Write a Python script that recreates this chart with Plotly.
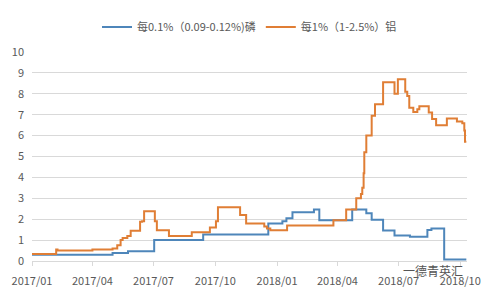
import plotly.graph_objects as go

# Phosphorus (per 0.1%) change points
p_dates = ["2017-01-01", "2017-05-01", "2017-05-24", "2017-07-02", "2017-09-13",
           "2017-12-19", "2018-01-09", "2018-01-15", "2018-01-24", "2018-02-25",
           "2018-03-05", "2018-04-23", "2018-05-14", "2018-05-22", "2018-06-08",
           "2018-06-25", "2018-07-18", "2018-08-13", "2018-08-19", "2018-09-06",
           "2018-09-07", "2018-10-10"]
p_vals = [0.30, 0.38, 0.47, 1.00, 1.27,
          1.80, 1.90, 2.05, 2.33, 2.47,
          1.95, 2.47, 2.28, 1.97, 1.46,
          1.22, 1.16, 1.48, 1.55, 1.55,
          0.07, 0.07]

# Aluminium (per 1%) change points
a_dates = ["2017-01-01", "2017-02-06", "2017-02-08", "2017-04-01", "2017-05-01",
           "2017-05-08", "2017-05-13", "2017-05-16", "2017-05-23", "2017-05-28",
           "2017-06-11", "2017-06-14", "2017-06-17", "2017-07-01", "2017-07-03",
           "2017-07-06", "2017-07-24", "2017-08-27", "2017-09-23", "2017-10-02",
           "2017-10-05", "2017-11-07", "2017-11-16", "2017-12-13", "2017-12-17",
           "2017-12-22", "2018-01-16", "2018-03-26", "2018-04-14", "2018-04-29",
           "2018-05-06", "2018-05-08", "2018-05-10", "2018-05-11", "2018-05-14",
           "2018-05-22", "2018-05-27", "2018-06-08", "2018-06-25", "2018-06-30",
           "2018-07-11", "2018-07-14", "2018-07-17", "2018-07-23", "2018-07-29",
           "2018-08-01", "2018-08-15", "2018-08-20", "2018-08-26", "2018-09-11",
           "2018-09-26", "2018-10-04", "2018-10-07", "2018-10-08", "2018-10-10"]
a_vals = [0.33, 0.55, 0.50, 0.55, 0.60,
          0.75, 1.00, 1.10, 1.20, 1.45,
          1.88, 1.90, 2.38, 2.38, 1.90,
          1.47, 1.20, 1.38, 1.60, 1.90,
          2.57, 2.20, 1.80, 1.65, 1.55,
          1.47, 1.70, 1.95, 2.47, 3.00,
          3.20, 3.50, 4.20, 5.20, 6.00,
          6.95, 7.50, 8.55, 8.00, 8.70,
          8.10, 7.90, 7.33, 7.13, 7.26,
          7.40, 7.10, 6.80, 6.50, 6.82,
          6.67, 6.59, 6.25, 5.70, 5.70]

tick_vals = ["2017-01-01", "2017-04-01", "2017-07-01", "2017-10-01",
             "2018-01-01", "2018-04-01", "2018-07-01", "2018-10-01"]
tick_text = ["2017/01", "2017/04", "2017/07", "2017/10",
             "2018/01", "2018/04", "2018/07", "2018/10"]

font_family = "Noto Sans CJK SC, Noto Sans, sans-serif"

fig = go.Figure()
fig.add_trace(go.Scatter(x=p_dates, y=p_vals, mode="lines", line_shape="hv",
                         name="每0.1%（0.09-0.12%)磷",
                         line=dict(color="#4E86BA", width=2)))
fig.add_trace(go.Scatter(x=a_dates, y=a_vals, mode="lines", line_shape="hv",
                         name="每1%（1-2.5%）铝",
                         line=dict(color="#E07E35", width=2)))

fig.update_layout(
    width=484, height=293,
    margin=dict(l=32, r=17, t=45, b=32),
    paper_bgcolor="white", plot_bgcolor="white",
    font=dict(family=font_family, size=11, color="#595959"),
    showlegend=True,
    legend=dict(orientation="h", x=0.5, xanchor="center", y=1.12, yanchor="middle",
                font=dict(size=11, color="#595959"), itemwidth=30,
                bgcolor="rgba(0,0,0,0)"),
    xaxis=dict(type="date", range=["2017-01-01", "2018-10-11"],
               tickvals=tick_vals, ticktext=tick_text,
               showgrid=False, zeroline=False, automargin=False,
               showline=True, linecolor="#D9D9D9", linewidth=1,
               ticks="outside", ticklen=4, tickcolor="#D9D9D9",
               ticklabelstandoff=6,
               tickfont=dict(size=11, color="#595959")),
    yaxis=dict(range=[0, 10], dtick=1, showgrid=True, gridcolor="#D9D9D9",
               gridwidth=1, zeroline=False, showline=False, automargin=False,
               ticklabelstandoff=7,
               tickfont=dict(size=11, color="#595959")),
)

fig.add_annotation(text="一德青英汇", xref="paper", yref="paper",
                   x=0.995, y=-0.045, xanchor="right", yanchor="middle",
                   showarrow=False, font=dict(size=12, color="#555555"))

fig.write_html("out.html")
